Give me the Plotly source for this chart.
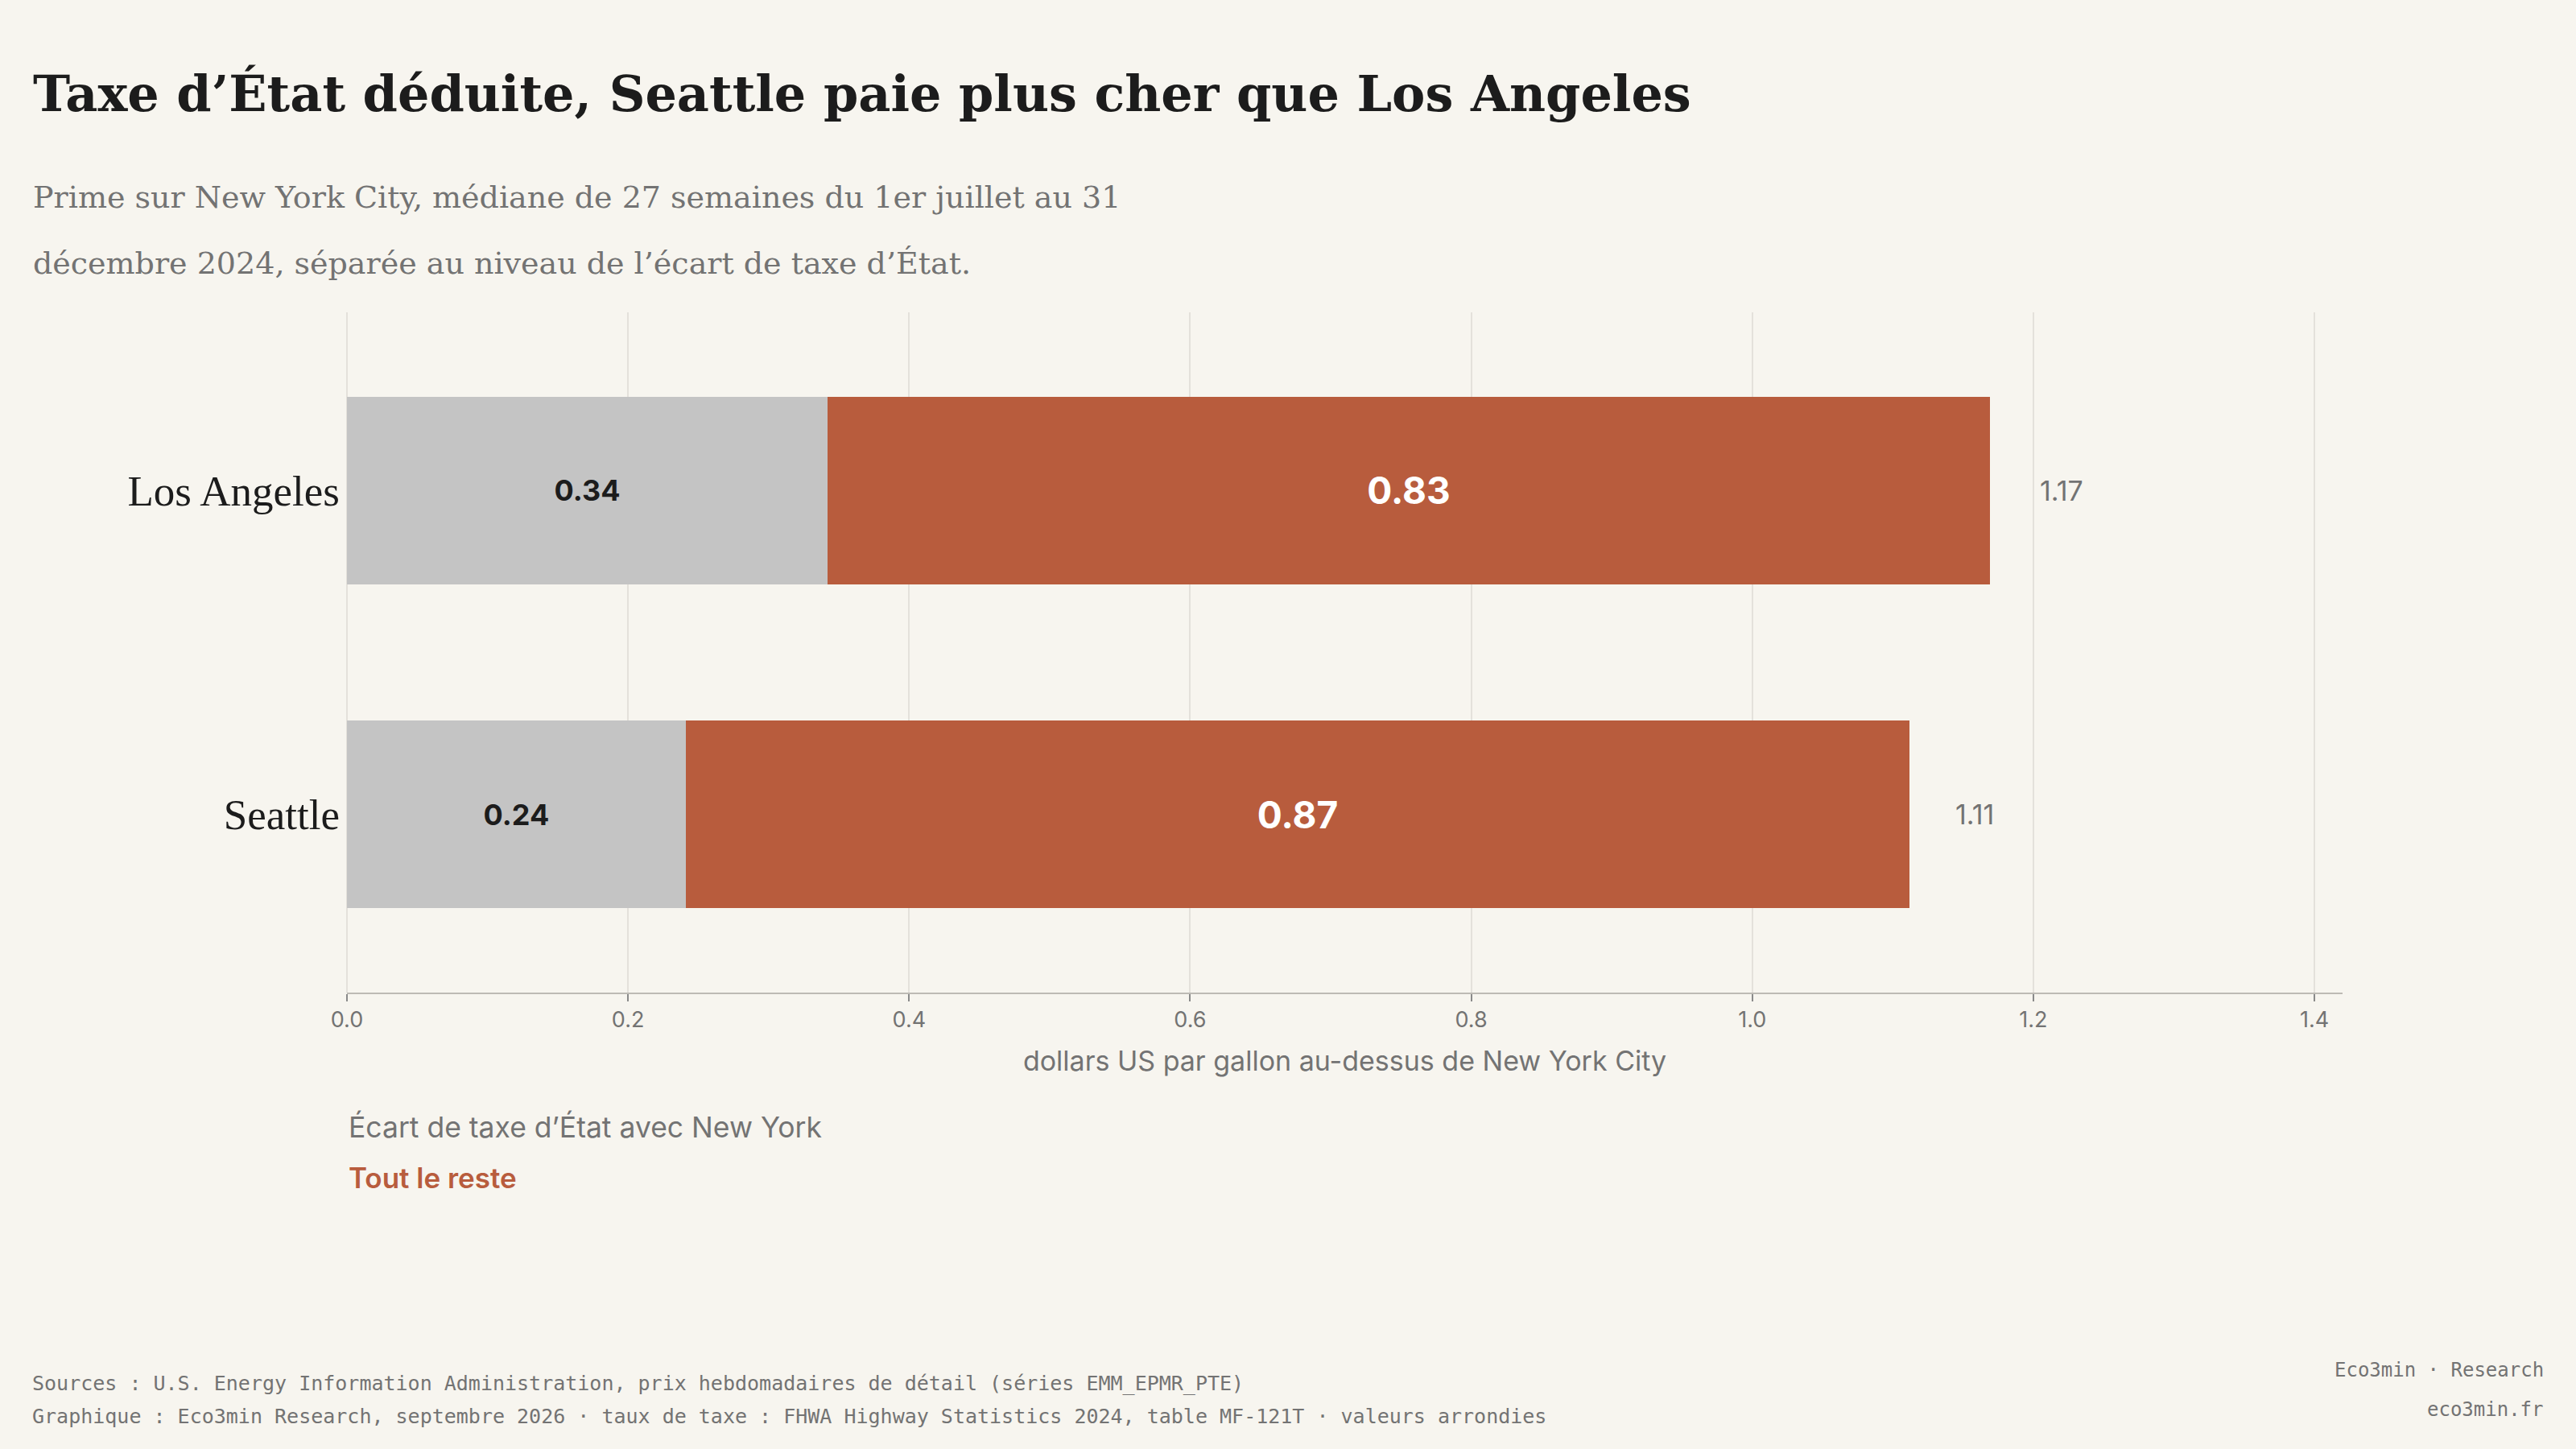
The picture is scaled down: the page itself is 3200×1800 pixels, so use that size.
import plotly.graph_objects as go

# Values (USD per gallon above New York City)
cities = ["Seattle", "Los Angeles"]
state_tax_gap = [0.241, 0.342]
everything_else = [0.871, 0.827]
totals = [round(a + b, 2) for a, b in zip(state_tax_gap, everything_else)]
x_ticks = [0.0, 0.2, 0.4, 0.6, 0.8, 1.0, 1.2, 1.4]

BG = "#f7f5ef"
GREY_BAR = "#c4c4c4"
RUST = "#b85c3d"
INK = "#1c1c1c"
MUTED = "#737373"
SERIF = "Liberation Serif, DejaVu Serif, serif"
WIDE_SERIF = "DejaVu Serif, Liberation Serif, serif"
SANS = "Inter, Roboto, sans-serif"
MONO = "DejaVu Sans Mono, Liberation Mono, monospace"

W, H = 3200, 1800
L, R, T, B = 431, 290, 388, 567


def px_x(px):
    return (px - L) / (W - L - R)


def px_y(py):
    return (H - B - py) / (H - T - B)


fig = go.Figure()

fig.add_trace(go.Bar(
    y=cities, x=state_tax_gap, orientation="h",
    marker=dict(color=GREY_BAR, line=dict(width=0)),
    width=0.58,
    texttemplate="%{x:.2f}", textposition="inside", insidetextanchor="middle",
    textfont=dict(family=SANS, size=36, color=INK, weight=700),
    name="Écart de taxe d’État avec New York",
))
fig.add_trace(go.Bar(
    y=cities, x=everything_else, orientation="h",
    marker=dict(color=RUST, line=dict(width=0)),
    width=0.58,
    texttemplate="%{x:.2f}", textposition="inside", insidetextanchor="middle",
    textfont=dict(family=SANS, size=46, color="white", weight=700),
    name="Tout le reste",
))

annotations = []

# totals to the right of each bar
for city, tot in zip(cities, totals):
    annotations.append(dict(
        x=tot, y=city, xref="x", yref="y", text=f"{tot:.2f}",
        showarrow=False, xanchor="left", yanchor="middle", xshift=58,
        font=dict(family=SANS, size=34, color=MUTED),
    ))

# title and subtitle
annotations.append(dict(
    x=px_x(39), y=px_y(116), xref="paper", yref="paper",
    text="<b>Taxe d’État déduite, Seattle paie plus cher que Los Angeles</b>",
    showarrow=False, xanchor="left", yanchor="middle",
    font=dict(family=WIDE_SERIF, size=62, color=INK),
))
subtitle_lines = [
    "Prime sur New York City, médiane de 27 semaines du 1er juillet au 31",
    "décembre 2024, séparée au niveau de l’écart de taxe d’État.",
]
for line, py in zip(subtitle_lines, [245, 327]):
    annotations.append(dict(
        x=px_x(39), y=px_y(py), xref="paper", yref="paper", text=line,
        showarrow=False, xanchor="left", yanchor="middle",
        font=dict(family=WIDE_SERIF, size=38, color=MUTED),
    ))

# legend written as text
annotations.append(dict(
    x=0, y=px_y(1400), xref="paper", yref="paper",
    text="Écart de taxe d’État avec New York",
    showarrow=False, xanchor="left", yanchor="middle",
    font=dict(family=SANS, size=35.5, color=MUTED),
))
annotations.append(dict(
    x=0, y=px_y(1463), xref="paper", yref="paper",
    text="Tout le reste",
    showarrow=False, xanchor="left", yanchor="middle",
    font=dict(family=SANS, size=35, color=RUST, weight=600),
))

# footer
footer_left = [
    "Sources : U.S. Energy Information Administration, prix hebdomadaires de détail (séries EMM_EPMR_PTE)",
    "Graphique : Eco3min Research, septembre 2026 · taux de taxe : FHWA Highway Statistics 2024, table MF-121T · valeurs arrondies",
]
for line, py in zip(footer_left, [1718, 1759]):
    annotations.append(dict(
        x=px_x(38), y=px_y(py), xref="paper", yref="paper", text=line,
        showarrow=False, xanchor="left", yanchor="middle",
        font=dict(family=MONO, size=25, color=MUTED),
    ))
for line, py in zip(["Eco3min · Research", "eco3min.fr"], [1702, 1751]):
    annotations.append(dict(
        x=px_x(3162), y=px_y(py), xref="paper", yref="paper", text=line,
        showarrow=False, xanchor="right", yanchor="middle",
        font=dict(family=MONO, size=24, color=MUTED),
    ))

fig.update_layout(
    width=W, height=H,
    barmode="stack",
    showlegend=False,
    paper_bgcolor=BG, plot_bgcolor=BG,
    margin=dict(l=L, r=R, t=T, b=B),
    annotations=annotations,
    xaxis=dict(
        range=[0, 1.42], tickvals=x_ticks, tickformat=".1f",
        showgrid=True, gridcolor="#e4e1db", gridwidth=2,
        zeroline=True, zerolinecolor="#e4e1db", zerolinewidth=2,
        showline=True, linecolor="#bdbab4", linewidth=2,
        ticks="outside", ticklen=9, tickwidth=2, tickcolor="#8a8a8a",
        tickfont=dict(family=SANS, size=27, color=MUTED),
        title=dict(text="dollars US par gallon au-dessus de New York City",
                   font=dict(family=SANS, size=34, color=MUTED), standoff=24),
    ),
    yaxis=dict(
        range=[-0.55, 1.55], showgrid=False, zeroline=False, showline=False,
        ticks="", ticklabelstandoff=8,
        tickfont=dict(family=SERIF, size=53, color=INK),
    ),
)

# drop the browser's default page margin so the figure sits flush
fig.write_html(
    "out.html",
    config={"displayModeBar": False},
    post_script="document.body.style.margin='0';document.body.style.background='" + BG + "';",
)
